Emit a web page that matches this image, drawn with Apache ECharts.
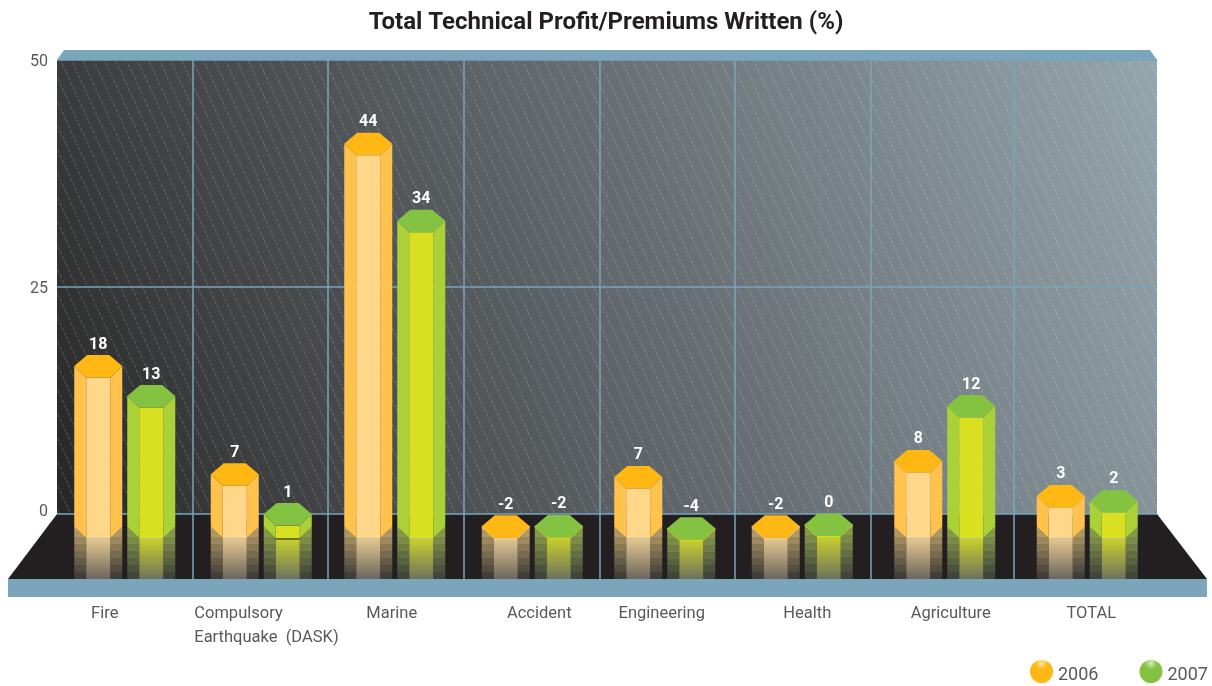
<!DOCTYPE html>
<html><head><meta charset="utf-8">
<style>html,body{margin:0;padding:0;background:#fff}#c{width:1212px;height:686px}</style>
<script src="https://cdn.jsdelivr.net/npm/echarts@6/dist/echarts.min.js"></script>
</head><body><div id="c"></div>
<script>
// ---- data ----
const categories = ['Fire','Compulsory\nEarthquake  (DASK)','Marine','Accident','Engineering','Health','Agriculture','TOTAL'];
const printed2006 = [18,7,44,-2,7,-2,8,3];
const printed2007 = [13,1,34,-2,-4,0,12,2];
// heights as actually drawn against the axis in the source picture
const drawn2006 = [17.5,5.6,42,-0.15,5.3,-0.15,7.05,3.2];
const drawn2007 = [14.2,1.2,33.5,-0.1,-0.35,0.05,13.1,2.65];
const yTicks = [0,25,50];

// ---- layout tweaks (source columns are not evenly spaced) ----
const groupNudge = [-1,-2,-6,-6,-11,-11,-6,-1];
const dividerNudge = [-1.5,-4,-5.5,-7,-9.5,-11,-5.5];
const labelNudge = [-21,-69,-9,1,-14,-6,0,3];
const labelAlign = ['center','left','center','center','center','center','center','center'];
const BLUE = '#7aa5bb', FLOOR='#231f20', INK='#58595b';
const FONT = 'Roboto, "Open Sans", sans-serif';

const palette = {
  2006:{top:'#ffb713',side:'#ffc24d',front:'#ffd78b',rf:['#e6c992','#6b655b'],rs:['#bda26b','#3d3a37']},
  2007:{top:'#83c341',side:'#abd138',front:'#d9e021',rf:['#c9d12c','#6e725e'],rs:['#8fa34d','#3e4239']}
};

function hex(c){return [1,3,5].map(i=>parseInt(c.substr(i,2),16));}
function mix(a,b,t,k){const A=hex(a),B=hex(b);return 'rgb('+A.map((v,i)=>Math.min(255,Math.round((v+(B[i]-v)*t)*(k||1)))).join(',')+')';}
function fade(a,b){return {type:'linear',x:0,y:0,x2:0,y2:1,colorStops:[{offset:0,color:a},{offset:1,color:b}]};}
function striped(a,b){
  const n=15,stops=[];
  for(let i=0;i<n;i++){const c=mix(a,b,i/(n-1),i%2?0.96:1.03);
    stops.push({offset:i/n,color:c},{offset:(i+1)/n,color:c});}
  return {type:'linear',x:0,y:0,x2:0,y2:1,colorStops:stops};
}

// hatch tile for the back wall: three lines with shifted dash phases, so the dashes do not line up in rows
const tile=document.createElement('canvas');tile.width=33;tile.height=24;
(function(){const g=tile.getContext('2d');g.strokeStyle='rgba(255,255,255,0.22)';g.lineWidth=0.9;
  const len=Math.hypot(11,24),p=len/5;g.setLineDash([p*0.68,p*0.32]);
  [0,1,2].forEach(k=>{g.lineDashOffset=p*k*0.37;
    g.beginPath();g.moveTo(k*11,0);g.lineTo(k*11+11,24);g.stroke();});})();

function renderBackdrop(params,api){
  const cs=params.coordSys,x0=cs.x,x1=cs.x+cs.width,yT=cs.y,y0=api.coord([0,0])[1];
  const floorY=y0+65,step=cs.width/categories.length;
  const kids=[
    {type:'polygon',shape:{points:[[x0,yT],[x0+7,yT-10],[x1-7,yT-10],[x1,yT]]},style:{fill:BLUE}},
    {type:'rect',shape:{x:x0,y:yT,width:cs.width,height:y0-yT},style:{fill:{type:'linear',x:0,y:1,x2:1,y2:0,colorStops:[
      {offset:0,color:'#262626'},{offset:.15,color:'#3b3c3d'},{offset:.57,color:'#697075'},{offset:1,color:'#95a6ad'}]}}},
    {type:'rect',shape:{x:x0,y:yT,width:cs.width,height:y0-yT},style:{fill:{image:tile,repeat:'repeat'}}},
    {type:'polygon',shape:{points:[[x0,y0],[x1,y0],[x1+50,floorY],[x0-49,floorY]]},style:{fill:FLOOR}},
    {type:'rect',shape:{x:x0-49,y:floorY,width:cs.width+99,height:18},style:{fill:BLUE}}
  ];
  dividerNudge.forEach((n,i)=>{const x=x0+step*(i+1)+n;
    kids.push({type:'line',shape:{x1:x,y1:yT,x2:x,y2:floorY},style:{stroke:BLUE,lineWidth:1.5}});});
  return {type:'group',children:kids};
}

function makeBars(year,off){
  const p=palette[year];
  return function(params,api){
    const i=api.value(0),c=api.coord([i,api.value(1)]),y0=api.coord([i,0])[1];
    const cx=c[0]+groupNudge[i]+off,t=c[1],W=24,F=12,S=11,D=22.5;
    const ft=t+D,bottom=y0+24.3,floorY=y0+65,hasColumn=bottom-ft>3,rs=hasColumn?bottom:ft;
    const kids=[];
    // mirrored fade on the floor
    kids.push({type:'polygon',shape:{points:[[cx-W,rs-S-.5],[cx-F,rs],[cx-F,floorY],[cx-W,floorY]]},style:{fill:striped(p.rs[0],p.rs[1])}});
    kids.push({type:'polygon',shape:{points:[[cx+W,rs-S-.5],[cx+F,rs],[cx+F,floorY],[cx+W,floorY]]},style:{fill:striped(p.rs[0],p.rs[1])}});
    kids.push({type:'rect',shape:{x:cx-F,y:rs,width:2*F,height:floorY-rs},style:{fill:fade(p.rf[0],p.rf[1])}});
    // column
    if(hasColumn){
      kids.push({type:'polygon',shape:{points:[[cx-W,t+S],[cx-F,ft],[cx-F,bottom],[cx-W,bottom-S-.5]]},style:{fill:p.side}});
      kids.push({type:'polygon',shape:{points:[[cx+W,t+S],[cx+F,ft],[cx+F,bottom],[cx+W,bottom-S-.5]]},style:{fill:p.side}});
      kids.push({type:'rect',shape:{x:cx-F,y:ft,width:2*F,height:bottom-ft},style:{fill:p.front}});
      const shortCol=bottom-ft<20;
      kids.push({type:'line',shape:{x1:cx-F,y1:bottom+(shortCol?.7:0),x2:cx+F,y2:bottom+(shortCol?.7:0)},style:{stroke:shortCol?'#231f20':'rgba(205,205,180,0.8)',lineWidth:1}});
    }else{
      kids.push({type:'polyline',shape:{points:[[cx-W,t+S],[cx-F,ft],[cx+F,ft],[cx+W,t+S]]},style:{fill:'none',stroke:p.front,lineWidth:1.4,opacity:.8}});
    }
    // cap
    kids.push({type:'polygon',shape:{points:[[cx-F+1,t],[cx+F-1,t],[cx+W,t+S],[cx+F,ft],[cx-F,ft],[cx-W,t+S]]},style:{fill:p.top}});
    // printed value
    kids.push({type:'text',style:{text:String(api.value(2)),x:cx,y:t-10.5,align:'center',verticalAlign:'middle',
      fill:'#fff',font:'bold 16px '+FONT}});
    return {type:'group',children:kids};
  };
}

function renderCategory(params,api){
  const i=api.value(0),c=api.coord([i,0]),y0=c[1];
  return {type:'text',style:{text:categories[i],x:c[0]+labelNudge[i],y:y0+88,align:labelAlign[i],verticalAlign:'top',
    fill:INK,font:'16.5px '+FONT,lineHeight:24}};
}

const chart=echarts.init(document.getElementById('c'),null,{renderer:'canvas'});
chart.setOption({
  animation:false,
  backgroundColor:'#fff',
  title:{text:'Total Technical Profit/Premiums Written (%)',left:'center',top:6,
    textStyle:{fontFamily:FONT,fontWeight:'bold',fontSize:24,color:'#231f20'}},
  legend:{left:1025,top:655,width:200,itemWidth:23,itemHeight:23,itemGap:41,icon:'circle',
    formatter:n=>'{t|'+n+'}',
    textStyle:{rich:{t:{fontFamily:FONT,fontSize:18,color:INK,padding:[8,0,0,0]}}},
    data:[
      {name:'2006',itemStyle:{color:{type:'radial',x:.5,y:.14,r:.5,colorStops:[{offset:0,color:'#ffe5ad'},{offset:.55,color:'#ffb713'},{offset:1,color:'#ffb713'}]}}},
      {name:'2007',itemStyle:{color:{type:'radial',x:.5,y:.14,r:.5,colorStops:[{offset:0,color:'#d8ecc0'},{offset:.55,color:'#83c341'},{offset:1,color:'#83c341'}]}}}
    ]},
  grid:{left:57,right:55,top:60,height:454,containLabel:false},
  xAxis:{type:'category',data:categories,axisLine:{show:false},axisTick:{show:false},axisLabel:{show:false},splitLine:{show:false}},
  yAxis:{type:'value',min:yTicks[0],max:yTicks[2],interval:yTicks[1],
    axisLine:{show:false},axisTick:{show:false},
    axisLabel:{margin:9,fontFamily:FONT,fontSize:16,color:INK,
      formatter:v=>v===0?'{z|0}':'{n|'+v+'}',
      rich:{z:{fontFamily:FONT,fontSize:16,color:INK,padding:[0,0,4,0]},n:{fontFamily:FONT,fontSize:16,color:INK,padding:[4,0,0,0]}}},
    splitLine:{show:true,lineStyle:{color:BLUE,width:1.5}}},
  series:[
    {name:'backdrop',type:'custom',z:-1,silent:true,coordinateSystem:'cartesian2d',data:[[0,0]],encode:{x:0,y:1},renderItem:renderBackdrop},
    {name:'2006',type:'custom',z:3,itemStyle:{color:'#ffb713'},coordinateSystem:'cartesian2d',encode:{x:0,y:1},
      data:drawn2006.map((v,i)=>[i,v,printed2006[i]]),renderItem:makeBars(2006,-26.5)},
    {name:'2007',type:'custom',z:3,itemStyle:{color:'#83c341'},coordinateSystem:'cartesian2d',encode:{x:0,y:1},
      data:drawn2007.map((v,i)=>[i,v,printed2007[i]]),renderItem:makeBars(2007,26.5)},
    {name:'categories',type:'custom',z:3,silent:true,coordinateSystem:'cartesian2d',encode:{x:0,y:1},
      data:categories.map((_,i)=>[i,0]),renderItem:renderCategory}
  ]
});
</script></body></html>
